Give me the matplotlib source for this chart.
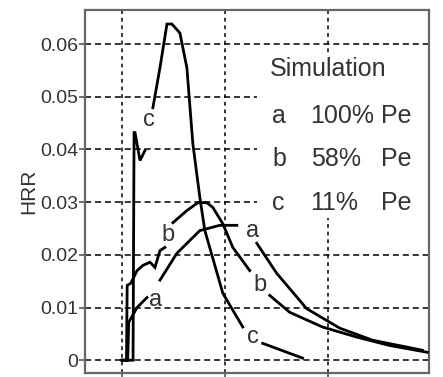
import numpy as np
import matplotlib.pyplot as plt
from matplotlib.patches import Rectangle

plt.rcParams['font.family'] = ['Liberation Sans', 'DejaVu Sans']

# curve a (100% Pe); None marks the gaps where a label sits on the curve
a_t = [100, 105.5, 106.5, 114.6, 124.3, None, 136.9, 153.4, 175.7, 195.1, 211.7,
       None, 231.1, 250.5, 279.6, 311.7, 343.7, 392.2]
a_hrr = [0, 0, 0.0072, 0.0100, 0.0119, None, 0.0152, 0.0203, 0.0246, 0.0256, 0.0256,
         None, 0.0222, 0.0165, 0.0098, 0.0061, 0.0038, 0.0019]

# curve b (58% Pe)
b_t = [100, 104.3, 105.0, 108.5, 114.6, 120.4, 127.2, 132, 136.9, 141.7, None,
       149.5, 163.1, 173.8, 182.5, 188.3, 198.1, 207.8, 224.3, None,
       243.7, 263.1, 295.1, 328.2, 360.2, 397.1]
b_hrr = [0, 0, 0.0142, 0.0146, 0.0170, 0.0180, 0.0186, 0.0176, 0.0208, 0.0214, None,
         0.0261, 0.0284, 0.0299, 0.0299, 0.0290, 0.0259, 0.0214, 0.0170, None,
         0.0123, 0.0091, 0.0063, 0.0044, 0.0028, 0.0015]

# curve c (11% Pe)
c_t = [100, 110.7, 111.7, 112.6, 117.5, 122.3, None, 130, 136.9, 143.7, 148.5,
       156.3, 163.1, 168.9, 175.7, 180.6, 198.1, 217.5, None, 236.9, 275.7]
c_hrr = [0, 0, 0.0432, 0.0432, 0.0379, 0.0398, None, 0.0479, 0.0555, 0.0638, 0.0638,
         0.0621, 0.0555, 0.0411, 0.0309, 0.0246, 0.0127, 0.0063, None, 0.0032, 0.0004]

# letters drawn on the curves
curve_labels = ['c', 'b', 'a', 'a', 'b', 'c']
label_t = [126.5, 144.7, 132.5, 227.5, 234.5, 227.5]
label_hrr = [0.0455, 0.0237, 0.0114, 0.0246, 0.0142, 0.0044]

sim_names = ['a', 'b', 'c']
sim_pct = ['100%', '58%', '11%']
y_ticks = [0, 0.01, 0.02, 0.03, 0.04, 0.05, 0.06]
x_ticks = [100, 200, 300]


def to_arr(v):
    return np.array([np.nan if x is None else x for x in v], dtype=float)


fig = plt.figure(figsize=(4.43, 3.77), dpi=100)
ax = fig.add_axes([0.192, 0.011, 0.777, 0.963])

for t, h in [(a_t, a_hrr), (b_t, b_hrr), (c_t, c_hrr)]:
    ax.plot(to_arr(t), to_arr(h), color='black', lw=2.0, solid_joinstyle='miter', zorder=3)

txt = '#333333'
for s, x, y in zip(curve_labels, label_t, label_hrr):
    ax.text(x, y, s, fontsize=17, color=txt, ha='center', va='center', zorder=4)

# white box under the simulation key hides the grid there
ax.add_patch(Rectangle((231, 0.0269), 170, 0.0313, facecolor='white',
                       edgecolor='none', zorder=1.5))

ax.text(243.7, 0.0553, 'Simulation', fontsize=18, color=txt, ha='left', va='center', zorder=4)
for i, (n, p) in enumerate(zip(sim_names, sim_pct)):
    y = 0.0464 - i * 0.0083
    ax.text(246.0, y, n, fontsize=18, color=txt, ha='left', va='center', zorder=4)
    ax.text(283.5, y, p, fontsize=18, color=txt, ha='left', va='center', zorder=4)
    ax.text(352.5, y, 'Pe', fontsize=18, color=txt, ha='left', va='center', zorder=4)

ax.set_xlim(64, 399)
ax.set_ylim(-0.0024, 0.0665)
ax.set_xticks(x_ticks)
ax.set_xticklabels([])
ax.set_yticks(y_ticks)
ax.set_yticklabels(['0' if v == 0 else f'{v:.2f}' for v in y_ticks])
ax.tick_params(direction='out', length=4, width=1.2, color='#555555',
               labelsize=14, labelcolor=txt, pad=1)
ax.grid(axis='y', color='black', lw=1.1, linestyle=(0, (4, 2.5)), zorder=1)
ax.grid(axis='x', color='black', lw=1.1, linestyle=(0, (2.5, 2.5)), zorder=1)
ax.set_axisbelow(True)
for sp in ax.spines.values():
    sp.set_color('#666666')
    sp.set_linewidth(1.6)

ax.set_ylabel('HRR', fontsize=15, color=txt, labelpad=1)

fig.savefig('out.png', dpi=100)
